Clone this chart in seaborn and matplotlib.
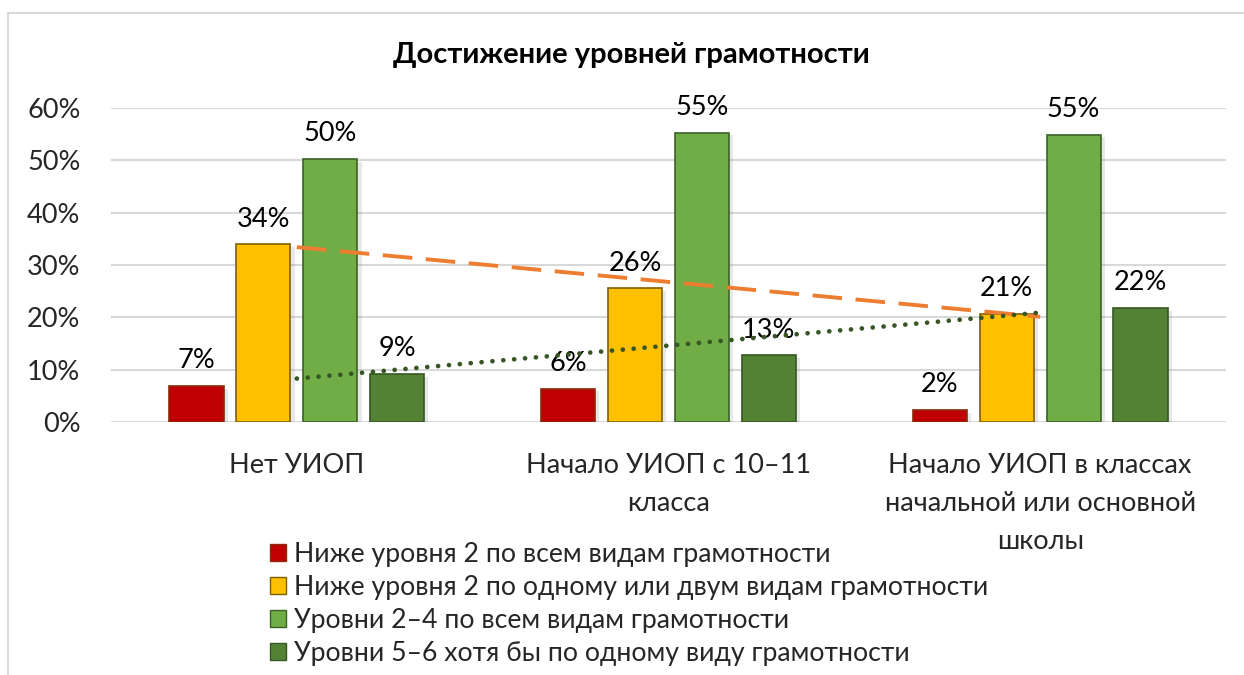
import numpy as np
import pandas as pd
import matplotlib
matplotlib.use("Agg")
import matplotlib.pyplot as plt
import matplotlib.patheffects as pe
from matplotlib.patches import Patch
from matplotlib.lines import Line2D
import seaborn as sns

categories = ["Нет УИОП", "Начало УИОП с 10–11\nкласса",
              "Начало УИОП в классах\nначальной или основной\nшколы"]
series = ["Ниже уровня 2 по всем видам грамотности",
          "Ниже уровня 2 по одному или двум видам грамотности",
          "Уровни 2–4 по всем видам грамотности",
          "Уровни 5–6 хотя бы по одному виду грамотности"]
below2_all = [0.069, 0.064, 0.023]
below2_some = [0.340, 0.256, 0.207]
levels2_4 = [0.503, 0.553, 0.549]
levels5_6 = [0.092, 0.128, 0.218]
title = "Достижение уровней грамотности"
yticks = [0.0, 0.1, 0.2, 0.3, 0.4, 0.5, 0.6]

colors = ["#C00000", "#FFC000", "#70AD47", "#548235"]
edges = ["#8B2A0A", "#7F6000", "#3B6227", "#375623"]

sns.set_theme(style="white")
FONT = ["Lato", "Open Sans", "DejaVu Sans"]
plt.rcParams["font.family"] = FONT

W, H = 1244, 675
fig = plt.figure(figsize=(W / 100, H / 100), dpi=100)
fig.patch.set_facecolor("white")

def fx(px):
    return px / W

def fy(py):
    return 1 - py / H

ax = fig.add_axes([fx(111), fy(422), fx(1226) - fx(111), fy(108) - fy(422)])

all_vals = [below2_all, below2_some, levels2_4, levels5_6]
df = pd.DataFrame({
    "cat": [c for _ in series for c in categories],
    "series": [s for s in series for _ in categories],
    "val": [v for vals in all_vals for v in vals],
})

sns.barplot(data=df, x="cat", y="val", hue="series", order=categories,
            hue_order=series, palette=colors, width=0.72, gap=0.19,
            saturation=1, ax=ax, legend=False, zorder=3)

shadow = [pe.SimplePatchShadow(offset=(3, -2), shadow_rgbFace="#808080", alpha=0.18), pe.Normal()]
for cont, ec in zip(ax.containers, edges):
    for p in cont:
        p.set_edgecolor(ec)
        p.set_linewidth(1.2)
        p.set_path_effects(shadow)
    ax.bar_label(cont, labels=[f"{v.get_height()*100:.0f}%" for v in cont],
                 padding=9, fontsize=19.5, color="black", family=FONT)

# linear trendlines
xs = np.arange(len(categories))
k, b = np.polyfit(xs, below2_some, 1)
ax.plot([xs[0], xs[-1]], [b + k * xs[0], b + k * xs[-1]], color="#ED7D31",
        lw=2.8, dashes=(7.6, 3.5), zorder=5)
k2, b2 = np.polyfit(xs, levels5_6, 1)
ax.plot([xs[0], xs[-1]], [b2 + k2 * xs[0], b2 + k2 * xs[-1]], color="#375623",
        lw=3.4, linestyle=(0, (0.01, 2.3)), dash_capstyle="round", zorder=5)

ax.set_xlim(-0.5, 2.5)
ax.set_ylim(0, 0.6)
ax.set_yticks(yticks)
ax.set_yticklabels([f"{t*100:.0f}%" for t in yticks], fontsize=19.5)
ax.set_xticks(range(len(categories)))
ax.set_xticklabels(categories, fontsize=19.5)
for t in ax.get_xticklabels():
    t.set_linespacing(1.65)
ax.tick_params(axis="y", length=0, pad=22)
ax.tick_params(axis="x", length=0, pad=22)
ax.set_xlabel("")
ax.set_ylabel("")
ax.grid(axis="y", color="#D9D9D9", lw=1.5, zorder=0)
ax.set_axisbelow(True)
for s in ax.spines.values():
    s.set_visible(False)

fig.text(fx(631), fy(55), title, ha="center", va="center",
         fontsize=21, fontweight="bold", color="black")

handles = [Patch(facecolor=c, edgecolor=e, linewidth=1.0) for c, e in zip(colors, edges)]
fig.legend(handles, series, loc="upper left",
           bbox_to_anchor=(fx(270), fy(542)), frameon=False,
           fontsize=19.2, handlelength=0.6, handleheight=0.6,
           handletextpad=0.3, labelspacing=0.3, borderpad=0, borderaxespad=0)

# chart border
fig.add_artist(Line2D([fx(8), 1], [fy(13), fy(13)], color="#D9D9D9", lw=1.5))
fig.add_artist(Line2D([fx(8), fx(8)], [fy(13), 0], color="#D9D9D9", lw=1.5))

fig.savefig("out.png", dpi=100)
